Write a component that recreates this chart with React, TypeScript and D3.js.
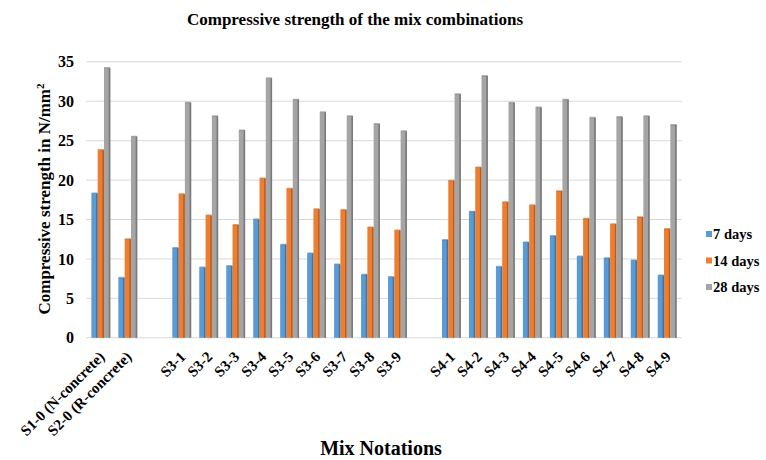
import React from "react";
import * as d3 from "d3";

const categories = [
  "S1-0 (N-concrete)", "S2-0 (R-concrete)", "",
  "S3-1", "S3-2", "S3-3", "S3-4", "S3-5", "S3-6", "S3-7", "S3-8", "S3-9", "",
  "S4-1", "S4-2", "S4-3", "S4-4", "S4-5", "S4-6", "S4-7", "S4-8", "S4-9",
];
const days7: (number | null)[] = [18.3, 7.6, null, 11.4, 8.9, 9.1, 15.0, 11.8, 10.7, 9.3, 8.0, 7.7, null, 12.4, 16.0, 9.0, 12.1, 12.9, 10.3, 10.1, 9.8, 7.9];
const days14: (number | null)[] = [23.8, 12.5, null, 18.2, 15.5, 14.3, 20.2, 18.9, 16.3, 16.2, 14.0, 13.6, null, 19.9, 21.6, 17.2, 16.8, 18.6, 15.1, 14.4, 15.3, 13.8];
const days28: (number | null)[] = [34.2, 25.5, null, 29.8, 28.1, 26.3, 32.9, 30.2, 28.6, 28.1, 27.1, 26.2, null, 30.9, 33.2, 29.8, 29.2, 30.2, 27.9, 28.0, 28.1, 27.0];
const seriesNames = ["7 days", "14 days", "28 days"];
const yTicks = [0, 5, 10, 15, 20, 25, 30, 35];

const colors = ["#5B9BD5", "#ED7D31", "#A5A5A5"];
const sideColors = ["#3F74A6", "#B85D1E", "#7A7A7A"];

export default function App() {
  const W = 766, H = 460;
  const left = 86, right = 682, top = 61.8, bottom = 337.8;
  const series = [days7, days14, days28];
  const x = d3.scaleBand<number>().domain(d3.range(categories.length)).range([left, right]).paddingInner(0.3).paddingOuter(0.2);
  const xs = d3.scaleBand<number>().domain([0, 1, 2]).range([0, x.bandwidth()]).padding(0);
  const y = d3.scaleLinear().domain([0, 35]).range([bottom, top]);
  const font = "'Liberation Serif', 'Times New Roman', serif";

  return (
    <svg width={W} height={H} style={{ position: "absolute", left: 0, top: 0, background: "#fff" }} fontFamily={font}>
      <text x={355} y={25} textAnchor="middle" fontSize={17} fontWeight="bold">Compressive strength of the mix combinations</text>
      {yTicks.map((t) => (
        <g key={t}>
          <line x1={left} x2={right} y1={y(t)} y2={y(t)} stroke="#D9D9D9" strokeWidth={1} />
          <text x={74} y={y(t)} dy="0.35em" textAnchor="end" fontSize={16} fontWeight="bold">{t}</text>
        </g>
      ))}
      {series.map((s, si) => (
        <g key={si}>
          {s.map((v, i) => {
            if (v == null) return null;
            const bx = (x(i) as number) + (xs(si) as number);
            const bw = xs.bandwidth();
            const yt = y(v);
            return (
              <g key={i}>
                <rect x={bx} y={yt} width={bw} height={bottom - yt} fill={colors[si]} />
                <rect x={bx + bw - 1.6} y={yt} width={1.6} height={bottom - yt} fill={sideColors[si]} />
                <rect x={bx} y={yt - 1} width={bw} height={1.5} fill={sideColors[si]} opacity={0.6} rx={0.7} />
              </g>
            );
          })}
        </g>
      ))}
      {categories.map((c, i) => {
        if (!c) return null;
        const cx = (x(i) as number) + x.bandwidth() / 2 + 1;
        return (
          <text key={i} transform={`translate(${cx},${354}) rotate(-45)`} textAnchor="end" fontSize={15} fontWeight="bold" dy="0.35em">{c}</text>
        );
      })}
      <text transform={`translate(50,199) rotate(-90)`} textAnchor="middle" fontSize={17} fontWeight="bold">
        Compressive strength in N/mm<tspan dy={-6} fontSize={11}>2</tspan>
      </text>
      <text x={381} y={455} textAnchor="middle" fontSize={20} fontWeight="bold">Mix Notations</text>
      {seriesNames.map((n, i) => (
        <g key={n} transform={`translate(706,${234 + i * 26.5})`}>
          <rect x={0} y={-3} width={6} height={6} fill={colors[i]} />
          <text x={7} y={0} dy="0.35em" fontSize={14.5} fontWeight="bold">{n}</text>
        </g>
      ))}
    </svg>
  );
}
